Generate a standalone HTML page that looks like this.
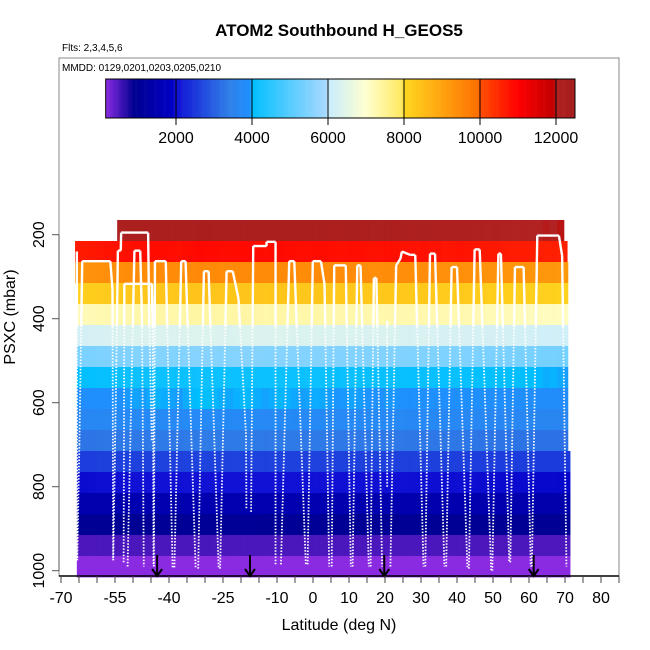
<!DOCTYPE html>
<html><head><meta charset="utf-8"><style>
body{margin:0;background:#fff}
svg{display:block;font-family:"Liberation Sans",sans-serif}
</style></head><body>
<svg id="chart" width="650" height="650" viewBox="0 0 650 650">
<text x="339" y="36" text-anchor="middle" font-size="17" font-weight="bold">ATOM2 Southbound H_GEOS5</text>
<text x="62" y="51" font-size="10">Flts: 2,3,4,5,6</text>
<g id="heat"></g>
<g id="flight"></g>
<g id="arrows"></g>
<rect x="59" y="58" width="560" height="518" fill="none" stroke="#888" stroke-width="1"/>
<text x="62" y="71" font-size="10">MMDD: 0129,0201,0203,0205,0210</text>
<g id="cbar"></g>
<g id="xaxis"></g>
<g id="yaxis"></g>
<text x="339" y="630" text-anchor="middle" font-size="16">Latitude (deg N)</text>
<text transform="translate(15,317) rotate(-90)" text-anchor="middle" font-size="16">PSXC (mbar)</text>
</svg>
<script>
const levels=[190,240,290,340,390,440,490,540,590,640,690,740,790,840,890,940,990];
const heights=[12200,10800,9400,8300,7300,6300,5500,4100,3950,3700,3300,2600,2000,1500,1000,500,150];
const colOffsets=[-150,-120,-90,-60,-40,-20,0,20,40,30,50,70,60,40,20,60,90,110,100,80,60,50,70,90,80,60,40,60,80,70,50,30,40,60,50,30,10,20,40,30,10,-10,0,20,10,-10,-30,-20,0,-20,-40,-60,-50,-30,-50,-70,-90,-110,-100,-120,-140,-160,-150,-170,-190,-210,-200,-220,-240];
const bandLatMin=[-54.4,-66.1,-66.1,-65.6,-65.6,-65.6,-65.6,-65.6,-65.6,-65.6,-65.6,-65.6,-65.6,-65.6,-65.6,-65.6,-65.6];
const bandLatMax=[69.7,70.6,70.8,70.8,70.8,70.8,70.8,70.8,70.8,70.8,70.8,71.4,71.4,71.4,71.4,71.4,71.4];
const xTicks=[-70,-65,-60,-55,-50,-45,-40,-35,-30,-25,-20,-15,-10,-5,0,5,10,15,20,25,30,35,40,45,50,55,60,65,70,75,80,85];
const xLabels=[-70,-55,-40,-25,-10,0,10,20,30,40,50,60,70,80];
const yTicks=[200,400,600,800,1000];
const cbTicks=[2000,4000,6000,8000,10000,12000];
const arrowLats=[-43.3,-17.5,19.8,61.3];
const flights=[
[[-65.6,240],[-65.5,975],[-64.9,700],[-64.1,263],[-56.3,263],[-55.7,330],[-55.5,975],[-54.6,500],[-54.2,238],[-53.4,238],[-53.3,195],[-45.8,195],[-45.5,400],[-44.8,690]],
[[-52.6,980],[-52.4,317],[-44.8,317],[-44.5,420],[-44.3,985]],
[[-51.5,990],[-49.6,238],[-48.0,238],[-47.5,400],[-47.0,990]],
[[-44.2,990],[-43.9,263],[-40.9,263],[-39.0,992]],
[[-38.5,992],[-36.6,263],[-35.4,263],[-32.6,995]],
[[-31.9,995],[-30.3,287],[-29.0,287],[-26.2,995]],
[[-25.8,995],[-24.0,287],[-22.3,287],[-20.7,352],[-18.6,678],[-18.5,852]],
[[-17.2,860],[-16.6,227],[-12.9,227],[-12.9,217],[-10.4,217],[-10.4,985]],
[[-8.9,985],[-6.6,263],[-5.2,263],[-2.0,985]],
[[-1.5,985],[-0.05,263],[2.2,263],[3.2,318],[4.5,990]],
[[5.2,990],[5.9,273],[9.1,273],[10.5,990]],
[[11.0,990],[12.3,273],[13.2,273],[15.5,990]],
[[16.0,990],[16.9,303],[17.6,303],[19.2,990]],
[[20.6,405],[20.6,800]],
[[21.5,990],[23.1,273],[24.3,257],[24.7,240],[27.0,248],[28.4,248],[30.7,990]],
[[31.2,990],[32.5,245],[33.9,245],[36.5,990]],
[[37.0,990],[38.5,277],[40.0,277],[42.9,995]],
[[43.3,995],[44.9,235],[46.3,235],[49.5,1000]],
[[49.8,1000],[51.5,245],[52.2,245],[54.5,980]],
[[54.8,980],[56.1,277],[58.5,277],[60.5,990]],
[[60.8,990],[62.3,202],[68.3,202],[69.2,250],[70.4,990]]
];
const cStops=[[150,"#8a2be2"],[900,"#000090"],[1900,"#0000c4"],[2000,"#1010d4"],[3400,"#3080e8"],[3950,"#1e90ff"],[4000,"#00bfff"],[5950,"#a8d8ff"],[6000,"#c8ecff"],[7000,"#ffffd0"],[7950,"#ffe860"],[8000,"#ffd820"],[9950,"#ff7000"],[10000,"#ff5000"],[11000,"#ff0000"],[11950,"#c00000"],[12000,"#b22222"],[12500,"#a51c1c"]];
const NS="http://www.w3.org/2000/svg";
const X=lat=>61+(lat+70)*3.6;
const Y=p=>234.7+(p-200)*0.42;
const CB=h=>176+(h-2000)*0.038;
const SOLID_P=420;
function hex(c){return [parseInt(c.substr(1,2),16),parseInt(c.substr(3,2),16),parseInt(c.substr(5,2),16)];}
function color(h){
  if(h<=cStops[0][0])return cStops[0][1];
  for(let i=1;i<cStops.length;i++){
    if(h<=cStops[i][0]){
      const a=hex(cStops[i-1][1]),b=hex(cStops[i][1]);
      const t=(h-cStops[i-1][0])/(cStops[i][0]-cStops[i-1][0]);
      return "rgb("+a.map((v,k)=>Math.round(v+(b[k]-v)*t)).join(",")+")";
    }
  }
  return cStops[cStops.length-1][1];
}
function mk(tag,attrs,parent){const e=document.createElementNS(NS,tag);for(const k in attrs)e.setAttribute(k,attrs[k]);parent.appendChild(e);return e;}
const heat=document.getElementById('heat');
levels.forEach((p,i)=>{
  const frac=1-i/16;
  colOffsets.forEach((off,j)=>{
    let l0=-66.2+j*2,l1=l0+2;
    l0=Math.max(l0,bandLatMin[i]);l1=Math.min(l1,bandLatMax[i]);
    if(l1<=l0)return;
    const r=mk('rect',{x:X(l0),y:Y(p-25),width:X(l1)-X(l0)+0.4,height:Y(p+25)-Y(p-25)+0.4,fill:color(heights[i]+off*frac)},heat);
    
    
  });
});
const fg=document.getElementById('flight');
function seg(a,b,solid){
  const s=mk('line',{x1:X(a[0]),y1:Y(a[1]),x2:X(b[0]),y2:Y(b[1]),stroke:"#fff","stroke-width":solid?2.4:1.8,"stroke-dasharray":solid?"none":"1.5,1.6","stroke-linecap":"butt"},fg);
  
  
}
flights.forEach(f=>{
  for(let k=1;k<f.length;k++){
    const a=f[k-1],b=f[k];
    const lo=Math.min(a[1],b[1]),hi=Math.max(a[1],b[1]);
    if(hi<=SOLID_P){seg(a,b,true);}
    else if(lo>=SOLID_P){seg(a,b,false);}
    else{
      const t=(SOLID_P-a[1])/(b[1]-a[1]);
      const m=[a[0]+(b[0]-a[0])*t,SOLID_P];
      seg(a,m,a[1]<SOLID_P);
      seg(m,b,b[1]<SOLID_P);
    }
  }
});
const ag=document.getElementById('arrows');
arrowLats.forEach(l=>{
  const x=X(l);
  const g=mk('g',{},ag);
  
  
  mk('line',{x1:x,y1:555,x2:x,y2:576,stroke:"#000","stroke-width":2},g);
  mk('polyline',{points:(x-5)+",569 "+x+",576 "+(x+5)+",569",fill:"none",stroke:"#000","stroke-width":2},g);
});
const cb=document.getElementById('cbar');
for(let h=150;h<12500;h+=25){
  const r=mk('rect',{x:CB(h),y:79,width:CB(h+25)-CB(h)+0.3,height:39,fill:color(h+12)},cb);
  
  
}
mk('rect',{x:CB(150),y:79,width:CB(12500)-CB(150),height:39,fill:"none",stroke:"#000","stroke-width":1},cb);
cbTicks.forEach(t=>{
  mk('line',{x1:CB(t),y1:79,x2:CB(t),y2:125,stroke:"#000","stroke-width":1},cb);
  const tx=mk('text',{x:CB(t),y:143,"text-anchor":"middle","font-size":16},cb);
  tx.textContent=t;
  
  
});
const xa=document.getElementById('xaxis');
mk('line',{x1:59,y1:576,x2:619,y2:576,stroke:"#000","stroke-width":1.5},xa);
xTicks.forEach(t=>{mk('line',{x1:X(t),y1:576,x2:X(t),y2:583,stroke:"#444","stroke-width":1},xa);});
xLabels.forEach(t=>{
  const tx=mk('text',{x:X(t),y:603,"text-anchor":"middle","font-size":16},xa);
  tx.textContent=t;
  
  
});
const ya=document.getElementById('yaxis');
mk('line',{x1:59,y1:Y(200),x2:59,y2:Y(1000),stroke:"#555","stroke-width":1},ya);
yTicks.forEach(t=>{
  mk('line',{x1:52,y1:Y(t),x2:59,y2:Y(t),stroke:"#555","stroke-width":1},ya);
  const tx=mk('text',{transform:"translate(44,"+Y(t)+") rotate(-90)","text-anchor":"middle","font-size":16},ya);
  tx.textContent=t;
  
  
});
</script>
</body></html>
